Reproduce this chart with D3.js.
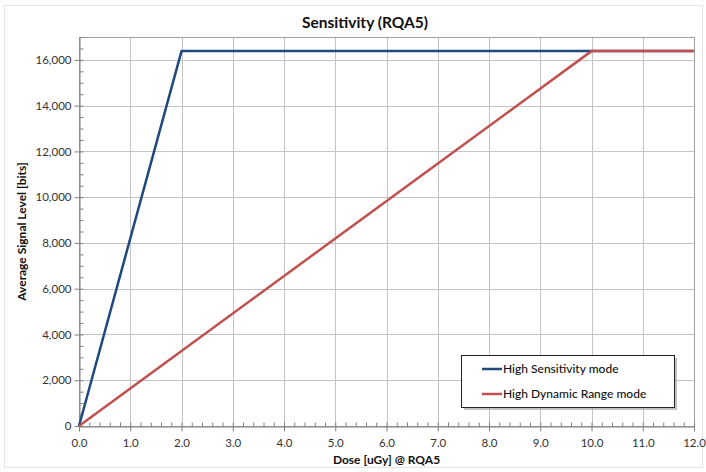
<!DOCTYPE html>
<html>
<head>
<meta charset="utf-8">
<script src="https://cdn.jsdelivr.net/npm/d3@7"></script>
<style>
  body { margin: 0; background: #fff; }
  text { font-family: Lato, "Open Sans", sans-serif; }
</style>
</head>
<body>
<div id="chart"></div>
<script>
// data
var seriesNames = ['High Sensitivity mode', 'High Dynamic Range mode'];
var seriesColors = ['#1F497D', '#C0504D'];
var highSensDose = [0, 2.0, 12.0];
var highSensSignal = [0, 16383, 16383];
var highDynDose = [0, 10.0, 12.0];
var highDynSignal = [0, 16383, 16383];
var xTicks = [0, 1, 2, 3, 4, 5, 6, 7, 8, 9, 10, 11, 12];
var yTicks = [0, 2000, 4000, 6000, 8000, 10000, 12000, 14000, 16000];

var w = 706, h = 472;
var m = {left: 79, right: 12, top: 37, bottom: 46};

var svg = d3.select('#chart').append('svg')
  .attr('width', w)
  .attr('height', h);

// outer chart frame
svg.append('rect')
  .attr('x', 4.5).attr('y', 5.5)
  .attr('width', w - 8).attr('height', h - 10)
  .attr('fill', '#fff')
  .attr('stroke', '#e4e4e4');

var x = d3.scaleLinear().domain([0, 12]).range([m.left, w - m.right]);
var y = d3.scaleLinear().domain([0, 17000]).range([h - m.bottom, m.top]);

////////////////////////
// Grid
////////////////////////
var grid = svg.append('g').attr('class', 'grid');
grid.selectAll('.vg')
  .data(xTicks.slice(1))
  .enter().append('line')
  .attr('x1', function(d) { return Math.round(x(d)) + 0.5; })
  .attr('x2', function(d) { return Math.round(x(d)) + 0.5; })
  .attr('y1', y(17000)).attr('y2', y(0))
  .attr('stroke', '#c4c4c4');
grid.selectAll('.hg')
  .data(yTicks.slice(1))
  .enter().append('line')
  .attr('y1', function(d) { return Math.round(y(d)) + 0.5; })
  .attr('y2', function(d) { return Math.round(y(d)) + 0.5; })
  .attr('x1', x(0)).attr('x2', x(12))
  .attr('stroke', '#c4c4c4');

// plot border
svg.append('rect')
  .attr('x', x(0) + 0.5).attr('y', y(17000) + 0.5)
  .attr('width', x(12) - x(0)).attr('height', y(0) - y(17000))
  .attr('fill', 'none')
  .attr('stroke', '#a0a0a0');

////////////////////////
// Axes
////////////////////////
var xAxis = d3.axisBottom(x)
  .tickValues(d3.range(0, 12.01, 0.2))
  .tickSize(4)
  .tickFormat('');
svg.append('g')
  .attr('transform', 'translate(0,' + (Math.round(y(0)) + 0.5) + ')')
  .call(xAxis)
  .call(function(g) {
    g.select('.domain').attr('stroke', '#808080');
    g.selectAll('.tick line').attr('stroke', '#808080').attr('y1', -4).attr('y2', 0);
  });
svg.append('g')
  .attr('transform', 'translate(0,' + (Math.round(y(0)) + 0.5) + ')')
  .call(d3.axisBottom(x).tickValues(xTicks).tickSize(5).tickFormat(d3.format('.1f')))
  .call(function(g) {
    g.select('.domain').remove();
    g.selectAll('.tick line').attr('stroke', '#808080');
    g.selectAll('.tick text').attr('font-size', 11.5).attr('fill', '#333').attr('dy', '1.05em');
  });

svg.append('g')
  .attr('transform', 'translate(' + (Math.round(x(0)) + 0.5) + ',0)')
  .call(d3.axisLeft(y).tickValues(d3.range(0, 17001, 500)).tickSize(-4).tickFormat(''))
  .call(function(g) {
    g.select('.domain').attr('stroke', '#808080');
    g.selectAll('.tick line').attr('stroke', '#808080');
  });
svg.append('g')
  .attr('transform', 'translate(' + (Math.round(x(0)) + 0.5) + ',0)')
  .call(d3.axisLeft(y).tickValues(yTicks).tickSize(5).tickFormat(d3.format(',')))
  .call(function(g) {
    g.select('.domain').remove();
    g.selectAll('.tick line').attr('stroke', '#808080');
    g.selectAll('.tick text').attr('font-size', 11.5).attr('fill', '#333').attr('x', -8);
  });

////////////////////////
// Lines
////////////////////////
var line = d3.line()
  .x(function(d) { return x(d[0]); })
  .y(function(d) { return y(d[1]); });

var lineData = [
  d3.zip(highSensDose, highSensSignal),
  d3.zip(highDynDose, highDynSignal)
];
svg.selectAll('.series')
  .data(lineData)
  .enter().append('path')
  .attr('class', 'series')
  .attr('d', line)
  .attr('fill', 'none')
  .attr('stroke', function(d, i) { return seriesColors[i]; })
  .attr('stroke-width', 2.5)
  .attr('stroke-linejoin', 'round');

////////////////////////
// Titles
////////////////////////
svg.append('text')
  .attr('x', 365).attr('y', 28)
  .attr('text-anchor', 'middle')
  .attr('font-size', 15.5).attr('font-weight', 'bold').attr('fill', '#111')
  .text('Sensitivity (RQA5)');

svg.append('text')
  .attr('x', (x(0) + x(12)) / 2).attr('y', 464)
  .attr('text-anchor', 'middle')
  .attr('font-size', 12).attr('font-weight', 'bold').attr('fill', '#111')
  .text('Dose [uGy] @ RQA5');

svg.append('text')
  .attr('transform', 'translate(26,' + ((y(0) + y(17000)) / 2) + ') rotate(-90)')
  .attr('text-anchor', 'middle')
  .attr('font-size', 12).attr('font-weight', 'bold').attr('fill', '#111')
  .text('Average Signal Level [bits]');

////////////////////////
// Legend
////////////////////////
var lg = svg.append('g').attr('transform', 'translate(461,355)');
lg.append('rect')
  .attr('x', 3).attr('y', 3).attr('width', 213).attr('height', 52)
  .attr('fill', '#9a9a9a').attr('opacity', 0.6);
lg.append('rect')
  .attr('x', 0.5).attr('y', 0.5).attr('width', 213).attr('height', 52)
  .attr('fill', '#fff').attr('stroke', '#222');
var items = lg.selectAll('.item')
  .data(seriesNames)
  .enter().append('g')
  .attr('transform', function(d, i) { return 'translate(21,' + (14 + i * 25) + ')'; });
items.append('line')
  .attr('x1', 0).attr('x2', 20)
  .attr('stroke', function(d, i) { return seriesColors[i]; })
  .attr('stroke-width', 2.5);
items.append('text')
  .attr('x', 21).attr('dy', '0.35em')
  .attr('font-size', 12).attr('font-weight', 500).attr('fill', '#111')
  .text(function(d) { return d; });
</script>
</body>
</html>
